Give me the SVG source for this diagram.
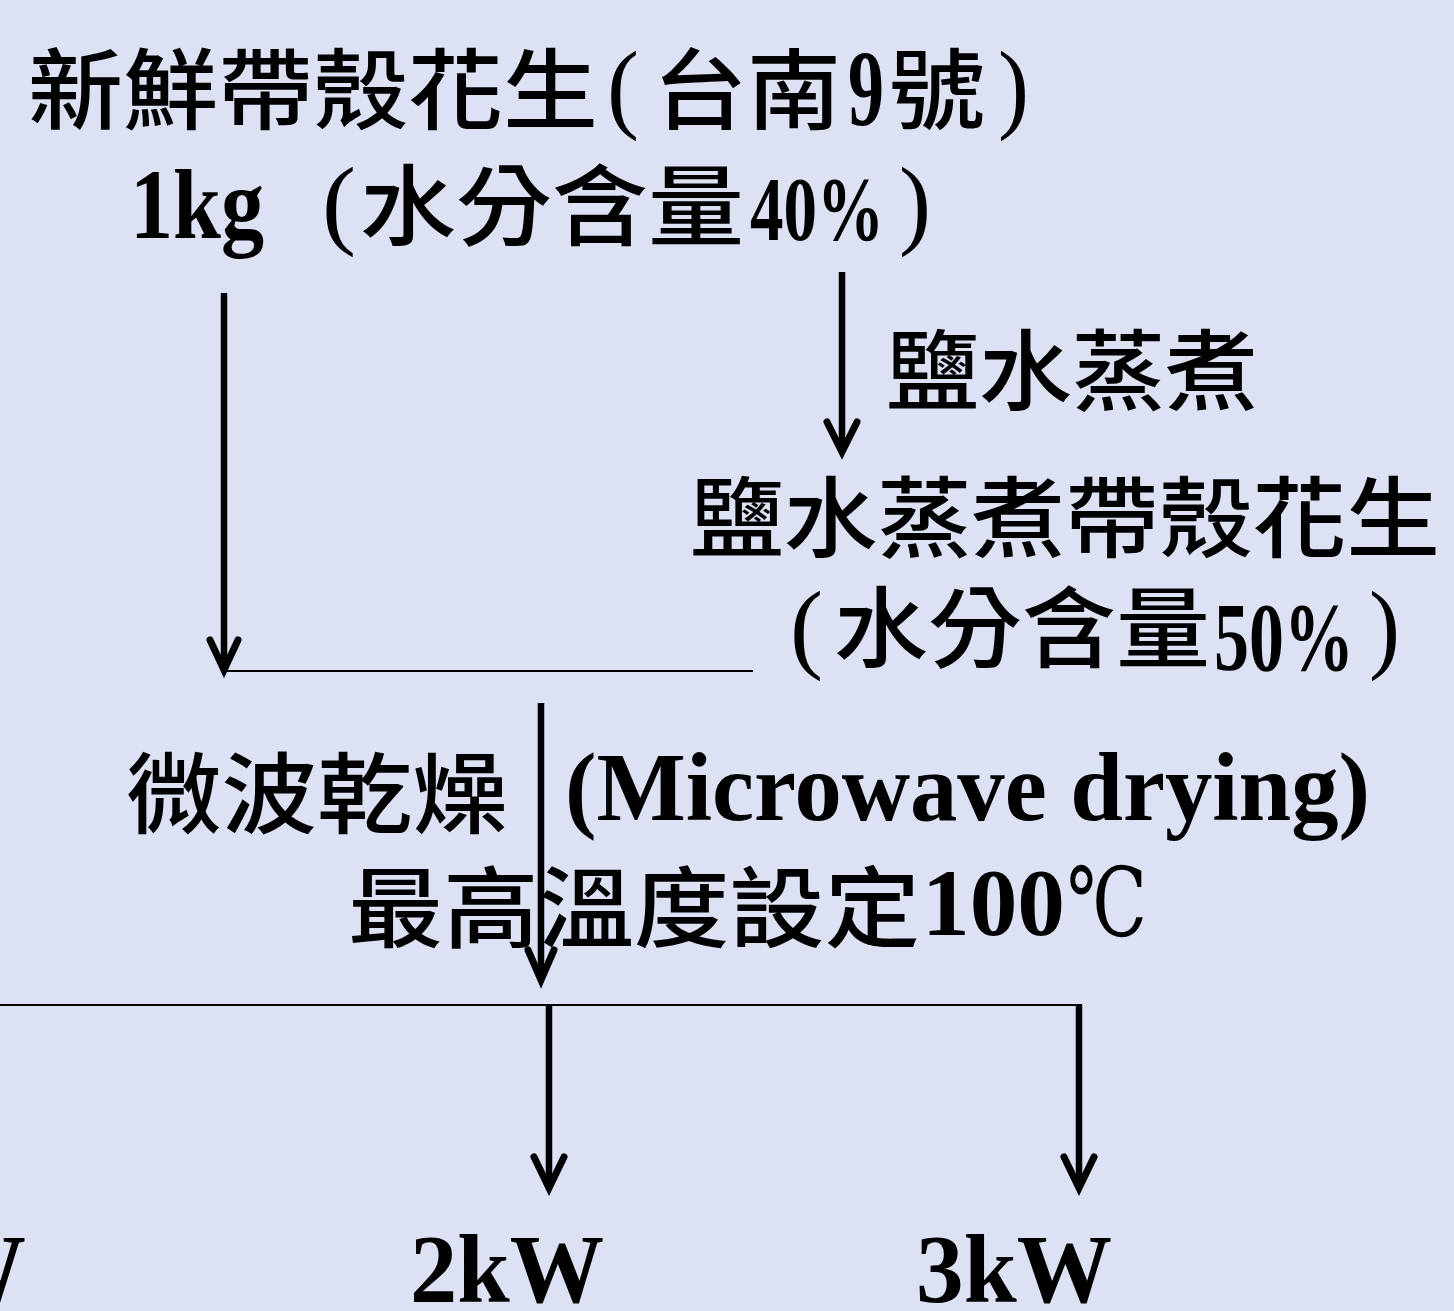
<svg xmlns="http://www.w3.org/2000/svg" width="1454" height="1311" viewBox="0 0 1454 1311">
<style>
.cjk{font-family:"Noto Sans CJK TC","Noto Sans CJK SC",sans-serif;font-size:88px;font-weight:500;fill:#000}
.ser{font-family:"Liberation Serif","DejaVu Serif",serif;fill:#000}
.en{font-family:"Liberation Serif","DejaVu Serif",serif;font-weight:bold;fill:#000}
.shaft{stroke:#000;stroke-width:6.5;fill:none}
.head{stroke:#000;stroke-width:7;fill:none;stroke-linecap:round;stroke-linejoin:miter}
.thin{stroke:#000;stroke-width:2;fill:none}
</style>
<rect width="1454" height="1311" fill="#dce1f3"/>
<g id="n-fresh">
<text class="cjk" x="28" y="122" textLength="570" lengthAdjust="spacingAndGlyphs">新鮮帶殼花生</text>
<text class="ser" x="607" y="120" font-size="100" textLength="32" lengthAdjust="spacingAndGlyphs">(</text>
<text class="cjk" x="653" y="122" textLength="188" lengthAdjust="spacingAndGlyphs">台南</text>
<text class="en" x="848" y="125" font-size="108" textLength="36" lengthAdjust="spacingAndGlyphs">9</text>
<text class="cjk" x="889" y="122" textLength="96" lengthAdjust="spacingAndGlyphs">號</text>
<text class="ser" x="998" y="120" font-size="100" textLength="31" lengthAdjust="spacingAndGlyphs">)</text>
<text class="en" x="130" y="238" font-size="100" textLength="134" lengthAdjust="spacingAndGlyphs">1kg</text>
<text class="ser" x="322" y="236" font-size="100" textLength="34" lengthAdjust="spacingAndGlyphs">(</text>
<text class="cjk" x="360" y="238" textLength="384" lengthAdjust="spacingAndGlyphs">水分含量</text>
<text class="en" x="750" y="240" font-size="90" textLength="134" lengthAdjust="spacingAndGlyphs">40%</text>
<text class="ser" x="899" y="236" font-size="100" textLength="32" lengthAdjust="spacingAndGlyphs">)</text>
</g>
<g id="n-boil-label">
<text class="cjk" x="886" y="403" textLength="372" lengthAdjust="spacingAndGlyphs">鹽水蒸煮</text>
</g>
<g id="n-boiled">
<text class="cjk" x="690" y="550" textLength="750" lengthAdjust="spacingAndGlyphs">鹽水蒸煮帶殼花生</text>
<text class="ser" x="790" y="660" font-size="100" textLength="33" lengthAdjust="spacingAndGlyphs">(</text>
<text class="cjk" x="834" y="660" textLength="376" lengthAdjust="spacingAndGlyphs">水分含量</text>
<text class="en" x="1214" y="670" font-size="98" textLength="140" lengthAdjust="spacingAndGlyphs">50%</text>
<text class="ser" x="1369" y="660" font-size="100" textLength="31" lengthAdjust="spacingAndGlyphs">)</text>
</g>
<g id="n-microwave">
<text class="cjk" x="126" y="826" textLength="382" lengthAdjust="spacingAndGlyphs">微波乾燥</text>
<text class="en" x="565" y="820" font-size="98" textLength="805" lengthAdjust="spacingAndGlyphs">(Microwave drying)</text>
<text class="cjk" x="348" y="940" textLength="572" lengthAdjust="spacingAndGlyphs">最高溫度設定</text>
<text class="en" x="922" y="935" font-size="96" textLength="143" lengthAdjust="spacingAndGlyphs">100</text>
<text class="ser" x="1067" y="936" font-size="96" textLength="80" lengthAdjust="spacingAndGlyphs">℃</text>
</g>
<g id="n-1kw">
<text class="en" x="26" y="1302" font-size="98" text-anchor="end">1kW</text>
</g>
<g id="n-2kw">
<text class="en" x="410" y="1302" font-size="97" textLength="194" lengthAdjust="spacingAndGlyphs">2kW</text>
</g>
<g id="n-3kw">
<text class="en" x="916" y="1302" font-size="97" textLength="196" lengthAdjust="spacingAndGlyphs">3kW</text>
</g>
<g id="connectors">
<line class="shaft" x1="224" y1="293" x2="224" y2="668"/>
<polyline class="head" points="210,640 224,670 238,640"/>
<line class="shaft" x1="842" y1="272" x2="842" y2="450"/>
<polyline class="head" points="827,422 842,452 857,422"/>
<line class="thin" x1="224" y1="671" x2="753" y2="671"/>
<line class="shaft" x1="541" y1="703" x2="541" y2="978" stroke-width="5"/>
<polyline class="head" points="528,950 541,980 554,950" stroke-width="5"/>
<line class="thin" x1="0" y1="1005" x2="1082" y2="1005"/>
<line class="shaft" x1="549" y1="1005" x2="549" y2="1186"/>
<polyline class="head" points="534,1157 549,1188 564,1157"/>
<line class="shaft" x1="1079" y1="1005" x2="1079" y2="1186"/>
<polyline class="head" points="1064,1157 1079,1188 1094,1157"/>
</g>
</svg>
